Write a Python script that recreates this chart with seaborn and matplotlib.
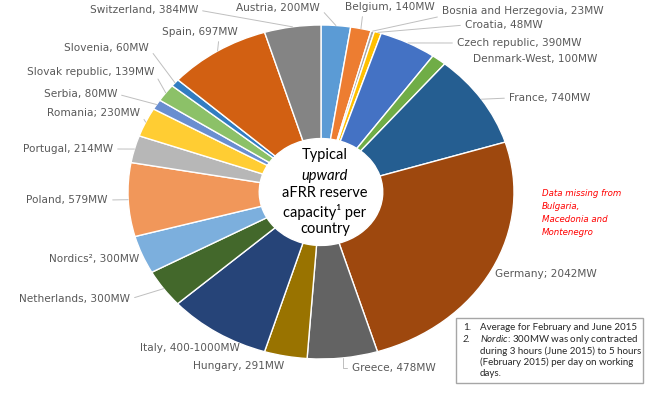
import numpy as np
import seaborn as sns
import matplotlib.pyplot as plt
from matplotlib.patches import Rectangle

countries = ["Austria", "Belgium", "Bosnia and Herzegovia", "Croatia", "Czech republic",
             "Denmark-West", "France", "Germany", "Greece", "Hungary", "Italy",
             "Netherlands", "Nordics", "Poland", "Portugal", "Romania", "Serbia",
             "Slovak republic", "Slovenia", "Spain", "Switzerland"]
# Italy is given as 400-1000MW, slice drawn at about 700
capacity = [200, 140, 23, 48, 390, 100, 740, 2042, 478, 291, 700,
            300, 300, 579, 214, 230, 80, 139, 60, 697, 384]
labels = ["Austria, 200MW", "Belgium, 140MW", "Bosnia and Herzegovia, 23MW", "Croatia, 48MW",
          "Czech republic, 390MW", "Denmark-West, 100MW", "France, 740MW", "Germany; 2042MW",
          "Greece, 478MW", "Hungary, 291MW", "Italy, 400-1000MW", "Netherlands, 300MW",
          "Nordics\u00b2, 300MW", "Poland, 579MW", "Portugal, 214MW", "Romania; 230MW",
          "Serbia, 80MW", "Slovak republic, 139MW", "Slovenia, 60MW", "Spain, 697MW",
          "Switzerland, 384MW"]
colors = ["#5B9BD5", "#ED7D31", "#A5A5A5", "#FFC000", "#4472C4", "#70AD47", "#255E91",
          "#9E480E", "#636363", "#997300", "#264478", "#43682B", "#7CAFDD", "#F1975A",
          "#B7B7B7", "#FFCD33", "#698ED0", "#8CC168", "#327DC2", "#D26012", "#848484"]

# label placement in image pixels: x, y, alignment, leader start (None = no leader)
label_pos = [(320, 8, "right", (1, 0.5)), (345, 7, "left", (0.2, 0)),
             (442, 11, "left", (0, 0)), (465, 25, "left", (0, 0.5)),
             (457, 43, "left", (0, 0.5)), (473, 59, "left", None),
             (509, 98, "left", (0, 0.5)), (495, 274, "left", None),
             (352, 368, "left", (0, 0.5)), (193, 366, "left", None),
             (240, 348, "right", None), (130, 299, "right", (1, 0.5)),
             (139, 259, "right", None), (108, 200, "right", (1, 0.5)),
             (113, 149, "right", (1, 0.5)), (140, 113, "right", (1, 0.5)),
             (117, 94, "right", (1, 0.5)), (154, 72, "right", (1, 0.5)),
             (149, 48, "right", (1, 0.5)), (238, 32, "right", (0.75, 0)),
             (198, 10, "right", (1, 0.5))]

W, H = 656, 399

def px(x, y):
    return (x / W, 1 - y / H)

sns.set_theme(style="white")
plt.rcParams["font.family"] = ["DejaVu Sans"]
plt.rcParams["mathtext.fontset"] = "custom"
plt.rcParams["mathtext.rm"] = "Lato"
plt.rcParams["mathtext.it"] = "Lato:italic"

fig = plt.figure(figsize=(W / 100, H / 100), dpi=100)
fig.patch.set_facecolor("white")
ax = fig.add_axes([128 / W, 40 / H, 386 / W, 334 / H])

ax.pie(capacity, colors=sns.color_palette(colors), startangle=90, counterclock=False,
       wedgeprops=dict(width=0.68, edgecolor="white", linewidth=1))
ax.set_aspect("auto")
ax.set_xlim(-1, 1)
ax.set_ylim(-1, 1)
ax.axis("off")

total = float(np.sum(capacity))
mids = (np.cumsum(capacity) - np.array(capacity) / 2) / total
for lab, m, (x, y, ha, rel) in zip(labels, mids, label_pos):
    th = np.deg2rad(90 - 360 * m)
    if rel is None:
        fig.text(*px(x, y), lab, ha=ha, va="center", fontsize=7.6, color="#595959")
    else:
        conn = "angle,angleA=0,angleB=90,rad=0" if lab.startswith("Greece") else "arc3"
        ax.annotate(lab, xy=(np.cos(th), np.sin(th)), xycoords="data",
                    xytext=px(x, y), textcoords="figure fraction",
                    ha=ha, va="center", fontsize=7.6, color="#595959",
                    annotation_clip=False,
                    arrowprops=dict(arrowstyle="-", color="#BFBFBF", lw=0.7,
                                    relpos=rel, shrinkA=1, shrinkB=0,
                                    connectionstyle=conn))

# centre text
center_lines = [("Typical", 155, "normal"), ("upward", 176, "italic"),
                ("aFRR reserve", 193, "normal"), ("capacity\u00b9 per", 212, "normal"),
                ("country", 229, "normal")]
for txt, y, st in center_lines:
    fig.text(*px(325, y), txt, ha="center", va="center", fontsize=10.5,
             family="Lato", style=st, color="black")

# red note
fig.text(*px(542, 189), "Data missing from\nBulgaria,\nMacedonia and\nMontenegro",
         ha="left", va="top", fontsize=6.2, style="italic", color="#FF0000", linespacing=1.55)

# footnote box
fig.patches.append(Rectangle(px(456, 383), 187 / W, 65 / H, transform=fig.transFigure,
                             facecolor="white", edgecolor="#A6A6A6", lw=1))
fig.text(*px(463, 328), "1.", fontsize=7, family="Lato", va="center", color="#262626")
fig.text(*px(463, 339), "2.", fontsize=7, family="Lato", style="italic", va="center", color="#262626")
notes = ["Average for February and June 2015",
         r"$\mathit{Nordic}$: 300MW was only contracted",
         "during 3 hours (June 2015) to 5 hours",
         "(February 2015) per day on working",
         "days."]
for txt, y in zip(notes, [328, 339, 351, 362, 373]):
    fig.text(*px(480, y), txt, fontsize=7, family="Lato", va="center", color="#262626")

fig.savefig("out.png", dpi=100)
